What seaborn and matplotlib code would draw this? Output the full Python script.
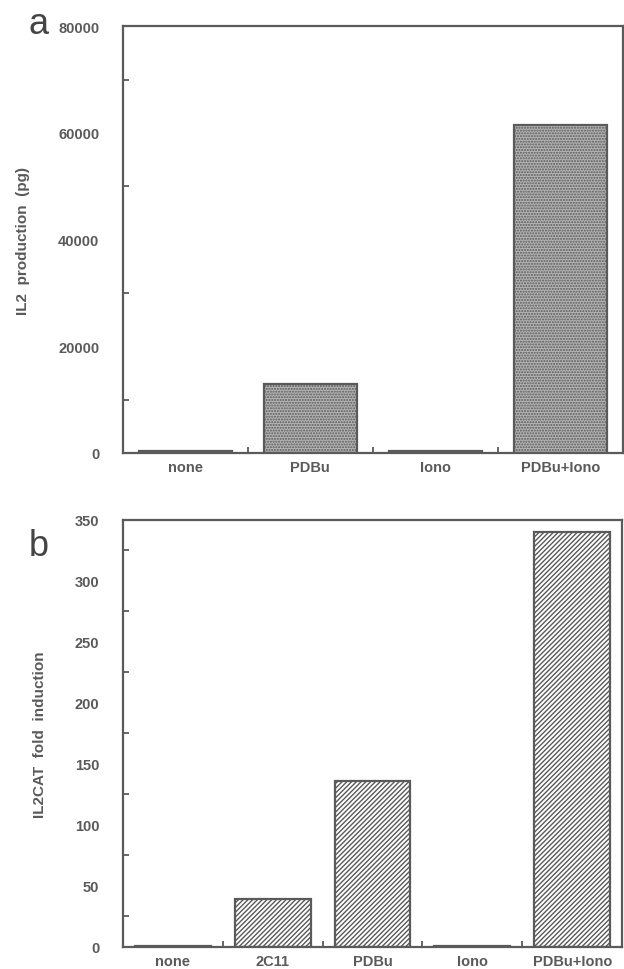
"""
plot.py

IL2 production and IL2CAT fold induction bar panels
"""

# import libs & settings
import numpy as np
import pandas as pd
import matplotlib
matplotlib.use("Agg")
import matplotlib.pyplot as plt
from matplotlib.ticker import MultipleLocator, FixedLocator
import seaborn as sns

sns.set_style("white")
plt.rcParams['font.family'] = ['Liberation Sans', 'DejaVu Sans']
plt.rcParams['font.weight'] = 'bold'

# data
cats_a = ["none", "PDBu", "Iono", "PDBu+Iono"]
il2_pg = [300, 13000, 400, 61500]

cats_b = ["none", "2C11", "PDBu", "Iono", "PDBu+Iono"]
fold_ind = [1, 39, 136, 1, 340]

grey = "#5a5a5a"

fig = plt.figure(figsize=(6.24, 9.70), dpi=100)
ax1 = fig.add_axes([0.197, 0.532, 0.801, 0.440])
ax2 = fig.add_axes([0.197, 0.0227, 0.800, 0.4403])

# panel a
df_a = pd.DataFrame({"cond": cats_a, "val": il2_pg})
sns.barplot(data=df_a, x="cond", y="val", ax=ax1, color="#b4b4b4",
            width=0.74, edgecolor=grey, linewidth=1.6, saturation=1)
for p in ax1.patches:
    p.set_hatch("......")
ax1.set_ylim(0, 80000)
ax1.set_xlim(-0.5, len(cats_a) - 0.5)
ax1.yaxis.set_major_locator(MultipleLocator(20000))
ax1.yaxis.set_minor_locator(MultipleLocator(10000))
ax1.xaxis.set_minor_locator(FixedLocator(np.arange(0.5, len(cats_a) - 1, 1)))
ax1.set_ylabel("IL2  production  (pg)", fontsize=11, color=grey,
               fontweight="bold", labelpad=20)
ax1.set_xlabel("")

# panel b
df_b = pd.DataFrame({"cond": cats_b, "val": fold_ind})
sns.barplot(data=df_b, x="cond", y="val", ax=ax2, color="white",
            width=0.76, edgecolor=grey, linewidth=1.6, saturation=1)
for p in ax2.patches:
    p.set_hatch("///////")
ax2.set_ylim(0, 350)
ax2.set_xlim(-0.5, len(cats_b) - 0.5)
ax2.yaxis.set_major_locator(MultipleLocator(50))
ax2.yaxis.set_minor_locator(MultipleLocator(25))
ax2.xaxis.set_minor_locator(FixedLocator(np.arange(0.5, len(cats_b) - 1, 1)))
ax2.set_ylabel("IL2CAT  fold  induction", fontsize=11, color=grey,
               fontweight="bold", labelpad=20)
ax2.set_xlabel("")

for ax in (ax1, ax2):
    for s in ax.spines.values():
        s.set_color(grey)
        s.set_linewidth(1.6)
        s.set_visible(True)
    ax.tick_params(axis="both", which="both", direction="in", color=grey,
                   width=1.3, labelcolor=grey, labelsize=10.5,
                   left=True, bottom=True)
    ax.tick_params(axis="x", which="major", length=0, pad=5)
    ax.tick_params(axis="x", which="minor", length=4)
    ax.tick_params(axis="y", which="major", length=0, pad=17)
    ax.tick_params(axis="y", which="minor", length=4)
    for lab in ax.get_xticklabels() + ax.get_yticklabels():
        lab.set_fontweight("bold")

fig.text(0.062, 0.975, "a", fontsize=26, color="#444444", fontweight="normal",
         ha="center", va="center")
fig.text(0.062, 0.437, "b", fontsize=26, color="#444444", fontweight="normal",
         ha="center", va="center")

fig.savefig("out.png", dpi=100)
